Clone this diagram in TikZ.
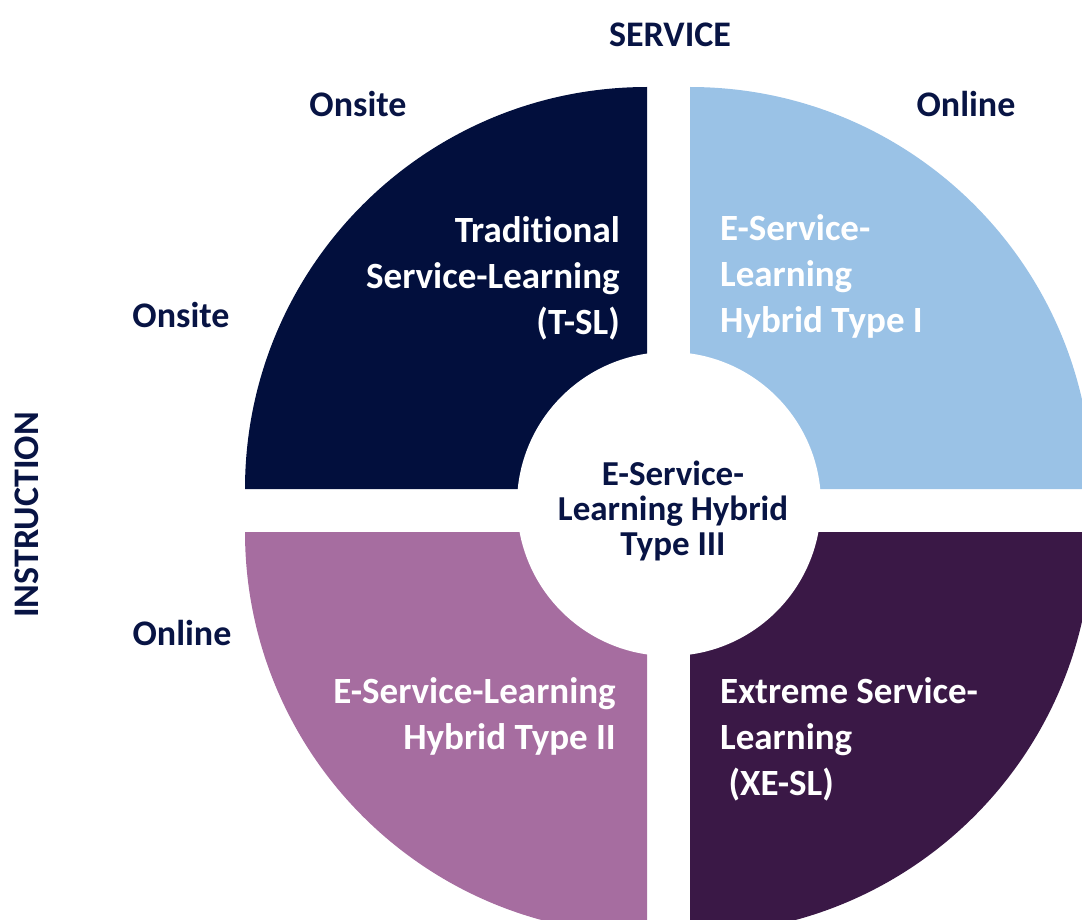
\documentclass[tikz,border=0pt]{standalone}
\usepackage{fontspec}
\setmainfont[Ligatures=NoCommon]{Carlito}
\usepackage{xcolor}

\definecolor{tslnavy}{RGB}{2,15,61}
\definecolor{eslblue}{RGB}{154,194,230}
\definecolor{esllilac}{RGB}{166,109,160}
\definecolor{xeslplum}{RGB}{58,24,70}
\definecolor{labelnavy}{RGB}{8,20,68}

\tikzset{
  axislabel/.style={font=\bfseries\fontsize{36}{44}\selectfont, text=labelnavy, inner sep=0pt},
  quadtext/.style={font=\bfseries\fontsize{37}{46}\selectfont, text=white, inner sep=0pt},
  hubtext/.style={font=\bfseries\fontsize{35}{35}\selectfont, text=labelnavy, inner sep=0pt, align=center},
  hub/.style={circle, fill=white, minimum size=304, inner sep=0pt},
}

\begin{document}
\begin{tikzpicture}[x=1pt, y=-1pt]

    \useasboundingbox (0,0) rectangle (1082,920);
    \clip (0,0) rectangle (1082,920);

    % the four quarters
    \fill[tslnavy]  (647,489) -- (245,489) arc[start angle=180, end angle=270, radius=402] -- cycle;
    \fill[eslblue]  (690,489) -- (690,87)  arc[start angle=270, end angle=360, radius=402] -- cycle;
    \fill[esllilac] (647,532) -- (245,532) arc[start angle=180, end angle=90,  radius=402] -- cycle;
    \fill[xeslplum] (690,532) -- (1092,532) arc[start angle=0,  end angle=90,  radius=402] -- cycle;

    \node[hub] (hub) at (669,504) {};

    % axis labels
    \node[axislabel, anchor=base] (service) at (670,47) {SERVICE};
    \node[axislabel, anchor=base] (onsiteTop) at (358,117) {Onsite};
    \node[axislabel, anchor=base] (onlineTop) at (966,117) {Online};
    \node[axislabel, anchor=base] (onsiteLeft) at (181,327) {Onsite};
    \node[axislabel, anchor=base] (onlineLeft) at (182,645) {Online};
    \node[axislabel, anchor=base, rotate=90] (instruction) at (38,515) {INSTRUCTION};

    % quarter texts
    \node[quadtext, align=right, anchor=north east] (tsl) at (620,216) {Traditional\\Service-Learning\\(T-SL)};
    \node[quadtext, align=left, anchor=north west] (eslOne) at (720,214) {E-Service-\\Learning\\Hybrid Type I};
    \node[quadtext, align=right, anchor=north east] (eslTwo) at (616,677) {E-Service-Learning\\Hybrid Type II};
    \node[quadtext, align=left, anchor=north west] (xesl) at (720,677) {Extreme Service-\\Learning\\\ (XE-SL)};

    \node[hubtext, anchor=north] (eslThree) at (673,461) {E-Service-\\Learning Hybrid\\Type III};

\end{tikzpicture}
\end{document}
